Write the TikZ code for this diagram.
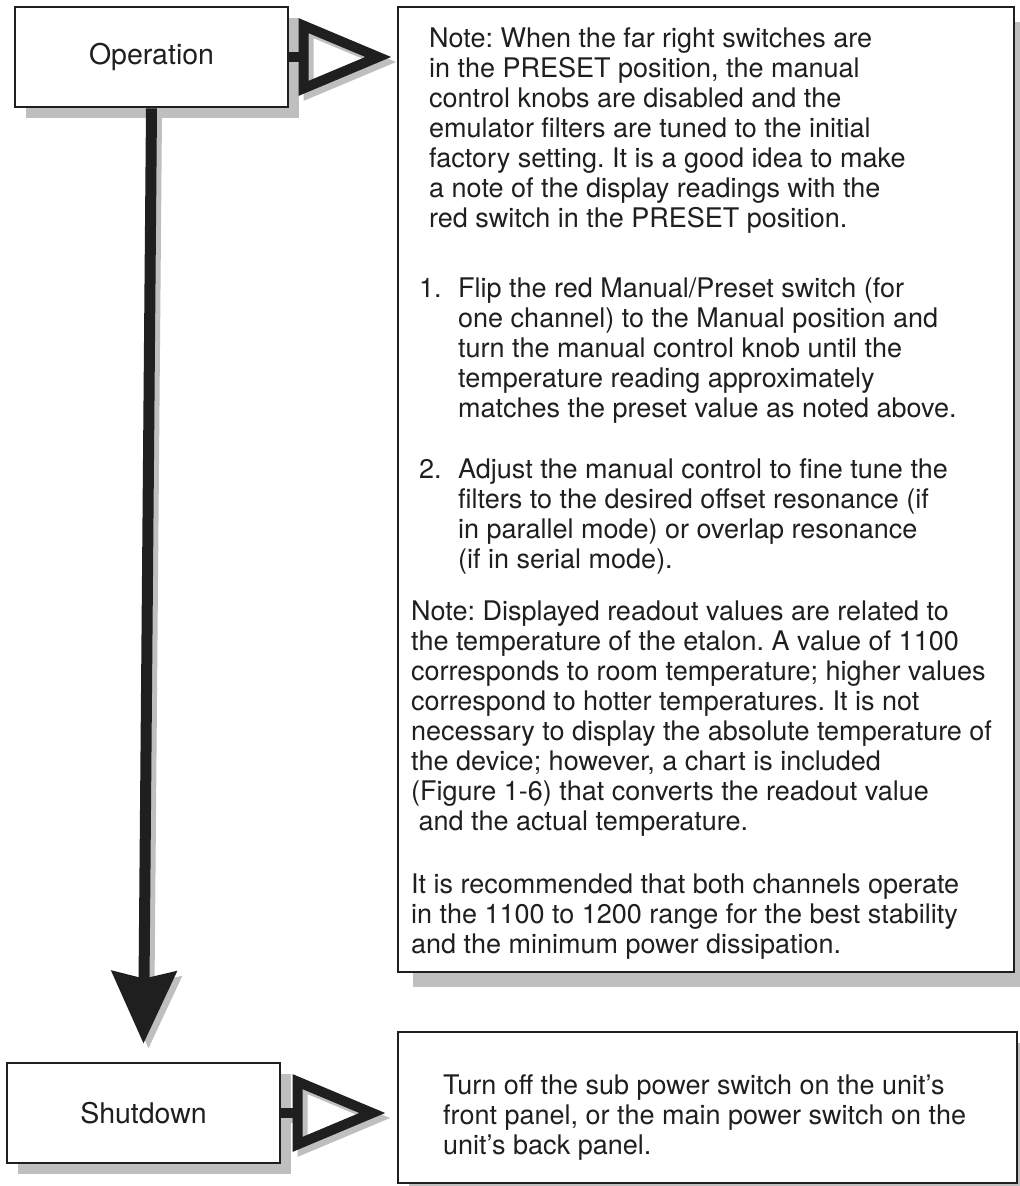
\documentclass[tikz,border=0pt]{standalone}
\usepackage{fontspec}
\setmainfont{TeX Gyre Heros}
\usetikzlibrary{arrows.meta,shadows}
\definecolor{ink}{gray}{0.12}
\definecolor{shade}{gray}{0.75}
\tikzset{>=Stealth}
\tikzset{
  box/.style={draw=ink,line width=2.8pt,fill=white,inner sep=0pt,
    font=\fontsize{28.5}{30}\selectfont,text=ink},
  shadowed/.style={drop shadow={shadow xshift=#1,shadow yshift=-#1,fill=shade,opacity=1}},
  txt/.style={anchor=north west,inner sep=0pt,align=left,
    font=\fontsize{27}{30}\selectfont\frenchspacing,text=ink},
  pointer/.style={draw=ink,line width=10pt,-{Triangle[open,length=93pt,width=75pt]}},
  flow/.style={draw=ink,line width=11pt,-{Stealth[length=72pt,width=64pt,inset=7pt]}},
  ghost/.style={draw=shade,transform canvas={xshift=5pt,yshift=-5pt}},
}
\begin{document}
\begin{tikzpicture}[x=1pt,y=-1pt]
\useasboundingbox (0,0) rectangle (1020,1186);
% boxes
\node[box,shadowed=11pt,minimum width=273pt,minimum height=100pt] (op) at (151.5,57) {Operation};
\node[box,shadowed=15pt,minimum width=616pt,minimum height=965pt] (note) at (706,489.5) {};
\node[box,shadowed=11pt,minimum width=273pt,minimum height=100pt] (sd) at (143.5,1113) {Shutdown};
\node[box,shadowed=11pt,minimum width=619pt,minimum height=151pt] (sdnote) at (707.5,1107.5) {};
% note text
\node[txt] (p1) at (429,26) {\strut Note: When the far right switches are\\
  in the PRESET position, the manual\\
  control knobs are disabled and the\\
  emulator filters are tuned to the initial\\
  factory setting. It is a good idea to make\\
  a note of the display readings with the\\
  red switch in the PRESET position.};
\node[txt] (n1) at (419,276) {\strut 1.};
\node[txt] (s1) at (458,276) {\strut Flip the red Manual/Preset switch (for\\
  one channel) to the Manual position and\\
  turn the manual control knob until the\\
  temperature reading approximately\\
  matches the preset value as noted above.};
\node[txt] (n2) at (419,457) {\strut 2.};
\node[txt] (s2) at (458,457) {\strut Adjust the manual control to fine tune the\\
  filters to the desired offset resonance (if\\
  in parallel mode) or overlap resonance\\
  (if in serial mode).};
\node[txt] (p2) at (411,599) {\strut Note: Displayed readout values are related to\\
  the temperature of the etalon. A value of 1100\\
  corresponds to room temperature; higher values\\
  correspond to hotter temperatures. It is not\\
  necessary to display the absolute temperature of\\
  the device; however, a chart is included\\
  (Figure 1-6) that converts the readout value\\
  \ and the actual temperature.};
\node[txt] (p3) at (411,872) {\strut It is recommended that both channels operate\\
  in the 1100 to 1200 range for the best stability\\
  and the minimum power dissipation.};
\node[txt] (p4) at (443,1073) {\strut Turn off the sub power switch on the unit’s\\
  front panel, or the main power switch on the\\
  unit’s back panel.};
% connectors
\draw[pointer,ghost] (op.east) -- ([xshift=-5pt]op.east -| note.west);
\draw[pointer] (op.east) -- ([xshift=-5pt]op.east -| note.west);
\draw[pointer,ghost] (sd.east) -- ([xshift=-11pt]sd.east -| sdnote.west);
\draw[pointer] (sd.east) -- ([xshift=-11pt]sd.east -| sdnote.west);
\draw[flow,ghost] (op.south) -- ([yshift=18pt]sd.north);
\draw[flow] (op.south) -- ([yshift=18pt]sd.north);
\end{tikzpicture}
\end{document}
